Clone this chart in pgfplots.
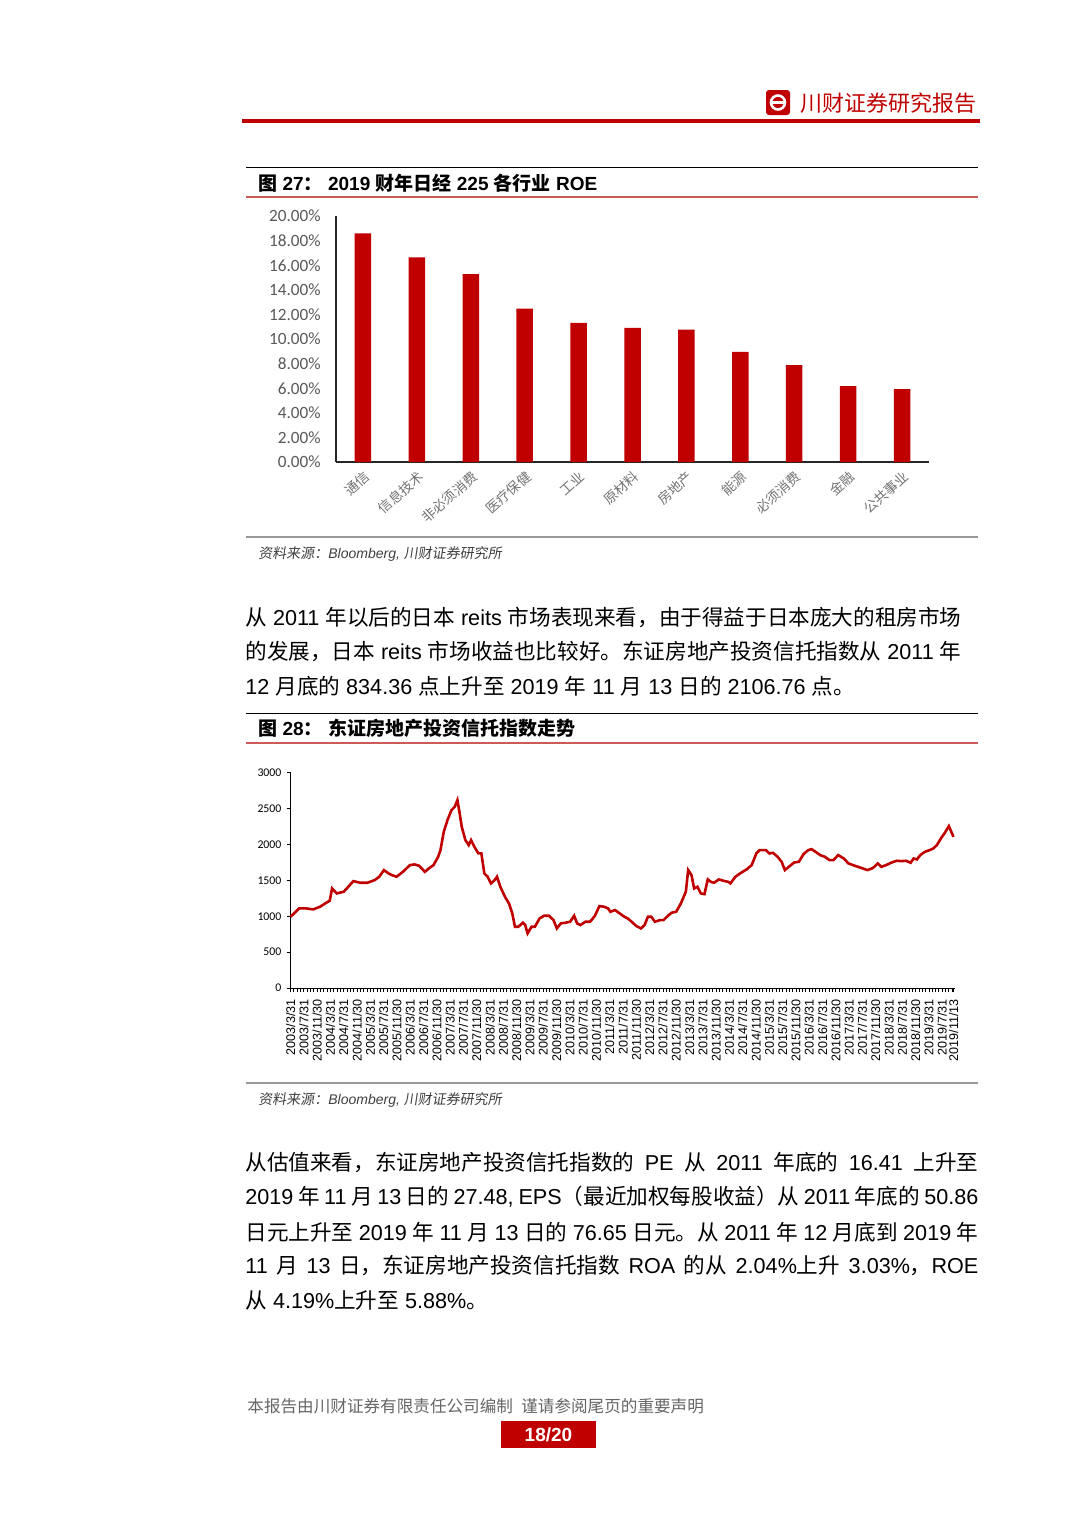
\documentclass[border=0pt]{standalone}
\usepackage{pgfplots}
\pgfplotsset{compat=1.18}
\usepackage{fontspec}
\setmainfont{Liberation Sans}
\newfontfamily\zhf{Noto Sans CJK SC}
\newfontfamily\zhi{Noto Sans CJK SC}[FakeSlant=0.15]
\newfontfamily\carl{Carlito}
\newcommand\zh[1]{{\zhf #1}}
\definecolor{cred}{RGB}{192,0,0}
\definecolor{tred}{RGB}{205,90,90}
\begin{document}
\begin{tikzpicture}[x=0.5pt,y=-0.5pt]
\useasboundingbox (0,0) rectangle (1080,1527);
\fill[white] (0,0) rectangle (1080,1527);
% header
\fill[cred, rounded corners=1.5pt] (766,90) rectangle (790,115);
\draw[white, line width=1.3pt] (778,102.5) circle (7);
\fill[white] (772,101) rectangle (784,104);
\node[anchor=west, inner sep=0, text=cred, font=\zhf\fontsize{11}{13}\selectfont] at (800,103) {川财证券研究报告};
\draw[cred, line width=2pt] (242,121) -- (980,121);
% figure 27
\draw[black, line width=0.5pt] (246,167) -- (978,167);
\node[anchor=west, inner sep=0, font=\bfseries\fontsize{9.5}{11}\selectfont] at (258,183) {\zh{图} 27\zh{：} 2019 \zh{财年日经} 225 \zh{各行业} ROE};
\draw[tred, line width=0.6pt] (246,197) -- (978,197);
\begin{axis}[at={(168pt,-231pt)}, anchor=south west, width=296.5pt, height=123pt, scale only axis,
  xmin=-0.5, xmax=10.5, ymin=0, ymax=20, ybar, bar width=8.25pt,
  axis lines=left, axis line style={-, black!85, line width=0.8pt},
  ytick={0,2,...,20},
  yticklabels={0.00\%,2.00\%,4.00\%,6.00\%,8.00\%,10.00\%,12.00\%,14.00\%,16.00\%,18.00\%,20.00\%},
  xtick={0,...,10},
  xticklabels={通信,信息技术,非必须消费,医疗保健,工业,原材料,房地产,能源,必须消费,金融,公共事业},
  major tick style={draw=none},
  yticklabel style={font=\carl\fontsize{8.6}{9}\selectfont, text=black!65, xshift=-2pt},
  xticklabel style={rotate=42, anchor=north east, font=\zhf\fontsize{6.8}{8}\selectfont, text=black!55, inner sep=1pt},
  clip=false]
\addplot[fill=cred, draw=none] coordinates {(0,18.59)(1,16.63)(2,15.28)(3,12.48)(4,11.32)(5,10.91)(6,10.77)(7,8.96)(8,7.87)(9,6.16)(10,5.92)};
\end{axis}
\draw[black!40, line width=0.8pt] (246,537) -- (978,537);
\node[anchor=west, inner sep=0, text=black!75, font=\fontsize{7}{8}\selectfont] at (258,554) {{\zhi 资料来源：}{\itshape Bloomberg, }{\zhi 川财证券研究所}};
% paragraph 1
\begin{scope}[every node/.style={anchor=west, inner sep=0, font=\fontsize{10.8}{12}\selectfont}]
\node at (245,617) {\zh{从} 2011 \zh{年以后的日本} reits \zh{市场表现来看，由于得益于日本庞大的租房市场}};
\node at (245,651) {\zh{的发展，日本} reits \zh{市场收益也比较好。东证房地产投资信托指数从} 2011 \zh{年}};
\node at (245,686) {12 \zh{月底的} 834.36 \zh{点上升至} 2019 \zh{年} 11 \zh{月} 13 \zh{日的} 2106.76 \zh{点。}};
\end{scope}
% figure 28
\draw[black, line width=0.5pt] (246,713) -- (978,713);
\node[anchor=west, inner sep=0, font=\bfseries\fontsize{9.5}{11}\selectfont] at (258,728) {\zh{图} 28\zh{：} \zh{东证房地产投资信托指数走势}};
\draw[tred, line width=0.6pt] (246,743) -- (978,743);
\begin{axis}[at={(145.25pt,-494pt)}, anchor=south west, width=332pt, height=107.6pt, scale only axis,
  xmin=0, xmax=199.7, ymin=0, ymax=3000,
  axis lines=left, axis line style={-, black, line width=0.5pt},
  ytick={0,500,...,3000}, scaled y ticks=false,
  /pgf/number format/1000 sep={}, /pgf/number format/assume math mode=true,
  yticklabel style={font=\carl\fontsize{5.9}{6}\selectfont, xshift=1pt},
  xtick={0,4,...,196,199.4},
  xticklabels={2003/3/31,2003/7/31,2003/11/30,2004/3/31,2004/7/31,2004/11/30,2005/3/31,2005/7/31,2005/11/30,2006/3/31,2006/7/31,2006/11/30,2007/3/31,2007/7/31,2007/11/30,2008/3/31,2008/7/31,2008/11/30,2009/3/31,2009/7/31,2009/11/30,2010/3/31,2010/7/31,2010/11/30,2011/3/31,2011/7/31,2011/11/30,2012/3/31,2012/7/31,2012/11/30,2013/3/31,2013/7/31,2013/11/30,2014/3/31,2014/7/31,2014/11/30,2015/3/31,2015/7/31,2015/11/30,2016/3/31,2016/7/31,2016/11/30,2017/3/31,2017/7/31,2017/11/30,2018/3/31,2018/7/31,2018/11/30,2019/3/31,2019/7/31,2019/11/13},
  minor xtick={0,1,...,199},
  tick align=outside, major tick length=2pt, minor tick length=2pt,
  tick style={black, line width=0.4pt},
  xticklabel style={rotate=90, anchor=east, font=\fontsize{6.3}{7}\selectfont},
  clip=false]
\addplot[cred, line width=1.3pt] coordinates {(0,994)(1.1,1040)(2.6,1110)(4.7,1110)(6.8,1096)(8.9,1133)(10.4,1179)(11.8,1217)(12.5,1388)(13.9,1319)(16.0,1342)(17.4,1412)(18.9,1490)(21.0,1467)(23.1,1467)(25.3,1504)(26.7,1551)(28.1,1644)(29.5,1597)(30.5,1574)(31.9,1551)(33.8,1620)(35.9,1713)(37.3,1723)(38.7,1704)(40.4,1620)(41.6,1667)(43.0,1713)(44.4,1829)(45.1,1922)(46.1,2178)(47.2,2340)(48.4,2479)(49.4,2526)(50.2,2619)(50.8,2456)(51.5,2247)(52.6,2062)(53.6,1992)(54.3,2062)(55.3,1969)(56.5,1876)(57.4,1876)(58.3,1597)(59.3,1551)(60.3,1458)(61.4,1504)(62.1,1551)(63.1,1412)(64.5,1272)(65.7,1179)(66.7,1040)(67.5,854)(68.5,854)(69.9,910)(70.6,878)(71.3,762)(72.5,854)(73.5,854)(74.9,970)(76.3,1008)(77.7,1008)(79.1,947)(80.1,831)(81.3,901)(82.7,910)(84.1,924)(85.3,1008)(86.2,901)(87.2,878)(88.7,924)(90.1,924)(91.5,1003)(92.9,1142)(94.3,1133)(95.5,1110)(96.2,1063)(97.6,1087)(99.0,1040)(100.4,994)(101.4,970)(102.6,924)(104.0,864)(105.4,831)(106.5,878)(107.5,994)(108.5,994)(109.6,924)(111.1,947)(112.2,947)(113.2,994)(114.6,1049)(116.0,1063)(117.4,1179)(118.9,1342)(119.6,1644)(120.6,1574)(121.4,1388)(122.4,1412)(123.4,1319)(124.5,1309)(125.5,1514)(126.4,1481)(127.4,1467)(128.8,1514)(130.2,1495)(131.6,1481)(132.3,1458)(133.8,1551)(135.2,1597)(137.3,1658)(138.7,1713)(140.1,1876)(141.1,1922)(143.0,1922)(144.0,1876)(145.1,1885)(146.5,1829)(147.7,1760)(148.7,1644)(150.1,1699)(151.5,1750)(152.9,1760)(154.3,1867)(155.7,1922)(156.7,1936)(157.9,1899)(159.3,1853)(160.7,1829)(162.1,1783)(163.3,1783)(164.7,1853)(166.4,1806)(167.8,1737)(169.2,1713)(170.6,1690)(172.1,1667)(173.5,1644)(174.9,1667)(175.6,1690)(176.6,1737)(177.7,1690)(179.1,1713)(180.6,1746)(182.3,1774)(183.7,1769)(185.1,1774)(186.5,1746)(187.4,1806)(188.4,1792)(189.4,1853)(190.8,1899)(192.2,1922)(193.3,1945)(194.4,1992)(195.8,2099)(196.8,2164)(198.0,2257)(199.4,2107)};
\end{axis}
\draw[black!40, line width=0.8pt] (246,1083) -- (978,1083);
\node[anchor=west, inner sep=0, text=black!75, font=\fontsize{7}{8}\selectfont] at (258,1100) {{\zhi 资料来源：}{\itshape Bloomberg, }{\zhi 川财证券研究所}};
% paragraph 2
\begin{scope}[every node/.style={anchor=west, inner sep=0, font=\fontsize{10.8}{12}\selectfont}]
\node at (245,1163) {\makebox[366.5pt][s]{\zh{从估值来看，东证房地产投资信托指数的} PE \zh{从} 2011 \zh{年底的} 16.41 \zh{上升至}}};
\node at (245,1197) {\makebox[366.5pt][s]{2019 \zh{年} 11 \zh{月} 13 \zh{日的} 27.48, EPS\zh{（最近加权每股收益）从} 2011 \zh{年底的} 50.86}};
\node at (245,1232) {\makebox[366.5pt][s]{\zh{日元上升至} 2019 \zh{年} 11 \zh{月} 13 \zh{日的} 76.65 \zh{日元。从} 2011 \zh{年} 12 \zh{月底到} 2019 \zh{年}}};
\node at (245,1266) {\makebox[366.5pt][s]{11 \zh{月} 13 \zh{日，东证房地产投资信托指数} ROA \zh{的从} 2.04\%\zh{上升} 3.03\%\zh{，}ROE}};
\node at (245,1300) {\zh{从} 4.19\%\zh{上升至} 5.88\%\zh{。}};
\end{scope}
% footer
\node[anchor=west, inner sep=0, text=black!60, font=\zhf\fontsize{8.3}{10}\selectfont] at (247,1406) {本报告由川财证券有限责任公司编制\hspace{0.5em}谨请参阅尾页的重要声明};
\fill[cred] (501,1421) rectangle (596,1448);
\node[text=white, inner sep=0, font=\bfseries\fontsize{9.5}{10}\selectfont] at (548.5,1435) {18/20};
\end{tikzpicture}
\end{document}
